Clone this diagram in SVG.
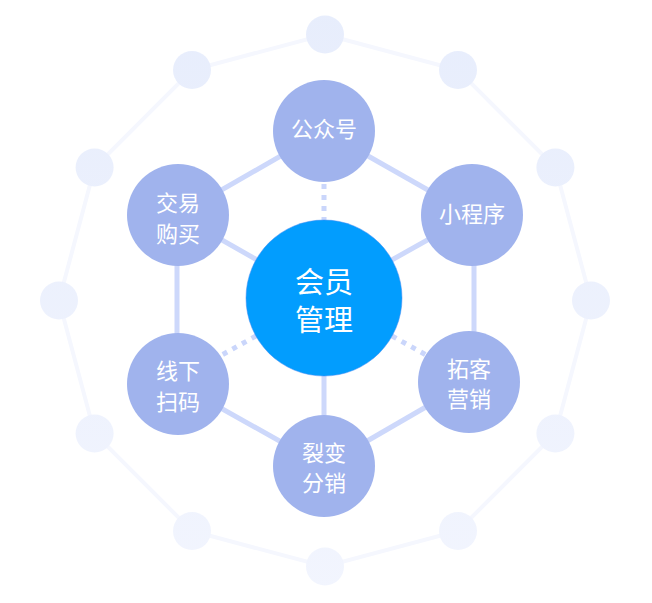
<svg xmlns="http://www.w3.org/2000/svg" width="652" height="603" viewBox="0 0 652 603">
<defs>
<linearGradient id="ringFill" gradientUnits="userSpaceOnUse" x1="0" y1="0" x2="0" y2="603">
<stop offset="0" stop-color="#e7edfc"/>
<stop offset="1" stop-color="#f2f5fe"/>
</linearGradient>
<style>
.ring{fill:url(#ringFill);}
.ringline{stroke:#f5f7fe;stroke-width:4;fill:none;}
.edge{stroke:#cdd8fb;stroke-width:5;fill:none;}
.dot{stroke:#cad6fb;stroke-width:5;stroke-dasharray:5 6;fill:none;}
.sat{fill:#a0b3ed;}
.txt{fill:#ffffff;font-family:"Noto Sans CJK SC","Liberation Sans",sans-serif;text-anchor:middle;}
.st{font-size:22px;}
.ct{font-size:29px;}
</style>
</defs>
<rect width="652" height="603" fill="#ffffff"/>
<g id="outer-ring">
<polygon class="ringline" points="325,34.5 458,70 555.4,167.5 591,300.5 555.4,433.5 458,531 325,566.5 192,531 94.6,433.5 59,300.5 94.6,167.5 192,70"/>
<circle class="ring" cx="325" cy="34.5" r="19"/>
<circle class="ring" cx="458" cy="70" r="19"/>
<circle class="ring" cx="555.4" cy="167.5" r="19"/>
<circle class="ring" cx="591" cy="300.5" r="19"/>
<circle class="ring" cx="555.4" cy="433.5" r="19"/>
<circle class="ring" cx="458" cy="531" r="19"/>
<circle class="ring" cx="325" cy="566.5" r="19"/>
<circle class="ring" cx="192" cy="531" r="19"/>
<circle class="ring" cx="94.6" cy="433.5" r="19"/>
<circle class="ring" cx="59" cy="300.5" r="19"/>
<circle class="ring" cx="94.6" cy="167.5" r="19"/>
<circle class="ring" cx="192" cy="70" r="19"/>
</g>
<g id="connectors">
<line class="edge" x1="324" y1="131" x2="178" y2="215"/>
<line class="edge" x1="324" y1="131" x2="472" y2="215"/>
<line class="edge" x1="474" y1="215" x2="474" y2="382"/>
<line class="edge" x1="469" y1="382" x2="324" y2="466"/>
<line class="edge" x1="324" y1="466" x2="178" y2="384"/>
<line class="edge" x1="177" y1="384" x2="177" y2="215"/>
<line class="edge" x1="178" y1="215" x2="324" y2="298"/>
<line class="edge" x1="472" y1="215" x2="324" y2="298"/>
<line class="edge" x1="324" y1="298" x2="324" y2="466"/>
<line class="dot" x1="324" y1="184" x2="324" y2="220"/>
<line class="dot" x1="256" y1="336" x2="220" y2="356"/>
<line class="dot" x1="392" y1="336" x2="428" y2="356"/>
</g>
<g id="node-center">
<circle cx="324" cy="298" r="78" fill="#029dfe" stroke="#4a8cf3" stroke-width="1" stroke-opacity="0.5"/>
<text class="txt ct" x="324" y="293">会员</text>
<text class="txt ct" x="324" y="331">管理</text>
</g>
<g id="node-gongzhonghao">
<circle class="sat" cx="324" cy="131" r="51"/>
<text class="txt st" x="324" y="137">公众号</text>
</g>
<g id="node-xiaochengxu">
<circle class="sat" cx="472" cy="215" r="51"/>
<text class="txt st" x="472" y="222">小程序</text>
</g>
<g id="node-tuoke">
<circle class="sat" cx="469" cy="382" r="51"/>
<text class="txt st" x="469" y="377">拓客</text>
<text class="txt st" x="469" y="407">营销</text>
</g>
<g id="node-liebian">
<circle class="sat" cx="324" cy="466" r="51"/>
<text class="txt st" x="324" y="461">裂变</text>
<text class="txt st" x="324" y="491">分销</text>
</g>
<g id="node-xianxia">
<circle class="sat" cx="178" cy="384" r="51"/>
<text class="txt st" x="178" y="379">线下</text>
<text class="txt st" x="178" y="410">扫码</text>
</g>
<g id="node-jiaoyi">
<circle class="sat" cx="178" cy="215" r="51"/>
<text class="txt st" x="178" y="211">交易</text>
<text class="txt st" x="178" y="242">购买</text>
</g>
</svg>
